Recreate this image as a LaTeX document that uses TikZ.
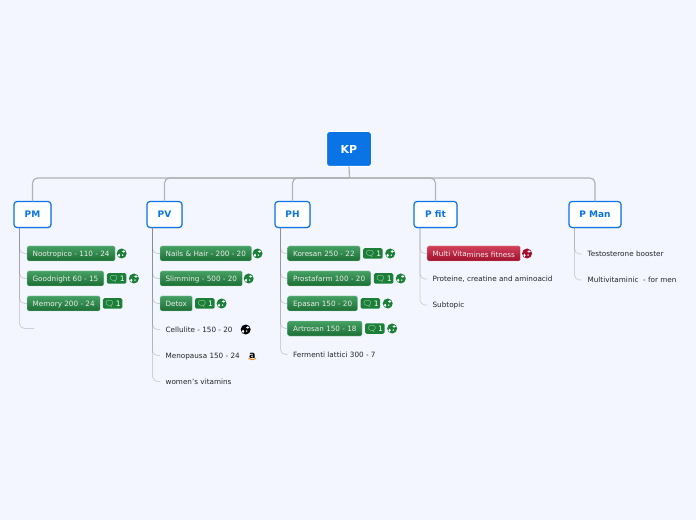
\documentclass[tikz,border=0pt]{standalone}
\usepackage{fontspec}
\setmainfont{DejaVu Sans}
\newfontfamily\emojifont{Noto Emoji}
\usetikzlibrary{positioning,calc,shadows}
\definecolor{pagebg}{HTML}{F3F6FF}
\definecolor{kpblue}{HTML}{0A73E6}
\definecolor{linegrey}{HTML}{B0B2B6}
\definecolor{pilltop}{HTML}{45A063}
\definecolor{pillbot}{HTML}{1B6E34}
\definecolor{redtop}{HTML}{D2405A}
\definecolor{redbot}{HTML}{A0102C}
\definecolor{badgegreen}{HTML}{1B7F38}
\tikzstyle{rootbox}=[rectangle, rounded corners=3pt, draw=white, line width=1pt, fill=kpblue, text=white, font=\bfseries\fontsize{11}{13}\selectfont, minimum width=45pt, minimum height=35pt, inner sep=0pt, outer sep=0pt]
\tikzstyle{mainbox}=[rectangle, rounded corners=3pt, draw=kpblue, line width=1.2pt, fill=white, text=kpblue, font=\bfseries\fontsize{9}{10}\selectfont, minimum height=26pt, inner sep=0pt, outer sep=0pt, drop shadow={shadow xshift=0.5pt, shadow yshift=-0.8pt, opacity=.35}]
\tikzstyle{pill}=[rectangle, rounded corners=1.5pt, draw=white!50!pilltop, line width=.4pt, top color=pilltop, bottom color=pillbot, text=white!92!black, font=\fontsize{7.25}{8}\selectfont, minimum height=15pt, text height=6.6pt, text depth=.6pt, inner xsep=5.6pt, inner ysep=0pt, outer sep=0pt]
\tikzstyle{redpill}=[pill, draw=white!50!redtop, top color=redtop, bottom color=redbot]
\tikzstyle{leaf}=[rectangle, text=black!85, font=\fontsize{7.25}{8}\selectfont, minimum height=15pt, text height=6.6pt, text depth=.6pt, inner xsep=5.6pt, inner ysep=0pt, outer sep=0pt]
\tikzstyle{notebadge}=[rectangle, rounded corners=1.5pt, fill=badgegreen, text=white, font=\fontsize{7.5}{8}\selectfont, minimum height=10.5pt, minimum width=19.5pt, inner sep=0pt, outer sep=0pt]
\tikzstyle{globe}=[circle, fill=#1, minimum size=10pt, inner sep=0pt, outer sep=0pt, path picture={
    \fill[white] ($(path picture bounding box.center)+(2,2)$) ellipse (1.7pt and 1.2pt);
    \fill[white] ($(path picture bounding box.center)+(-2.6,-1.8)$) ellipse (1.2pt and 1.7pt);
    \fill[white] ($(path picture bounding box.center)+(1,-1.6)$) circle (.8pt);
    }]
\tikzstyle{mainline}=[-, line width=1.2pt, draw=linegrey, rounded corners=5pt]
\tikzstyle{branch}=[-, line width=.8pt, draw=black!50, draw opacity=.32, rounded corners=5pt]
\newcommand\bubble{{\emojifont\fontsize{8}{8}\selectfont 🗨}\,1}

\begin{document}
\begin{tikzpicture}[x=1pt,y=1pt,node distance=10pt]

    \fill[pagebg] (0,0) rectangle (696,520);
    \useasboundingbox (0,0) rectangle (696,520);

    \node (kp) [rootbox] at (349,371) {KP};
    \coordinate (kpbus) at (349.5,342);

    \node (pm) [mainbox, minimum width=37pt] at (32.5,305.5) {PM};
    \node (pv) [mainbox, minimum width=35pt, right=96pt of pm] {PV};
    \node (ph) [mainbox, minimum width=35pt, right=93pt of pv] {PH};
    \node (pfit) [mainbox, minimum width=43pt, right=104pt of ph] {P fit};
    \node (pman) [mainbox, minimum width=52pt, right=112pt of pfit] {P Man};

% PM
    \node (noot) [pill, below right=18.5pt and 13pt of pm.south west] {Nootropico - 110 - 24};
    \node (nootg) [globe=badgegreen, right=1.5pt of noot] {};
    \node (goodnight) [pill, below=10pt of noot.south west, anchor=north west] {Goodnight 60 - 15};
    \node (goodnightb) [notebadge, right=3pt of goodnight] {\bubble};
    \node (goodnightg) [globe=badgegreen, right=2.5pt of goodnightb] {};
    \node (memory) [pill, below=10pt of goodnight.south west, anchor=north west] {Memory 200 - 24};
    \node (memoryb) [notebadge, right=2.5pt of memory] {\bubble};
    \coordinate (pmend) at ($(memory.south west)+(7,-17.5)$);

% PV
    \node (nails) [pill, below right=18.5pt and 13pt of pv.south west] {Nails \& Hair - 200 - 20};
    \node (nailsg) [globe=badgegreen, right=1pt of nails] {};
    \node (slim) [pill, below=10pt of nails.south west, anchor=north west] {Slimming - 500 - 20};
    \node (slimg) [globe=badgegreen, right=1pt of slim] {};
    \node (detox) [pill, below=10pt of slim.south west, anchor=north west] {Detox};
    \node (detoxb) [notebadge, right=2.5pt of detox] {\bubble};
    \node (detoxg) [globe=badgegreen, right=2pt of detoxb] {};
    \node (cell) [leaf, below=11pt of detox.south west, anchor=north west] {Cellulite - 150 - 20};
    \node (cellg) [globe=black, right=2.5pt of cell] {};
    \node (meno) [leaf, below=11pt of cell.south west, anchor=north west] {Menopausa 150 - 24};
    \node (menoa) [font=\bfseries\fontsize{9.5}{9.5}\selectfont, inner sep=0pt, right=3.5pt of meno] {a};
    \draw[orange, line width=.9pt] ($(menoa.south west)+(-.5,0)$) to[bend right=35] ($(menoa.south east)+(.5,0)$);
    \node (women) [leaf, below=11pt of meno.south west, anchor=north west] {women's vitamins};

% PH
    \node (koresan) [pill, below right=18.5pt and 12.5pt of ph.south west] {Koresan 250 - 22};
    \node (koresanb) [notebadge, right=3pt of koresan] {\bubble};
    \node (koresang) [globe=badgegreen, right=2.5pt of koresanb] {};
    \node (prosta) [pill, below=10pt of koresan.south west, anchor=north west] {Prostafarm 100 - 20};
    \node (prostab) [notebadge, right=3pt of prosta] {\bubble};
    \node (prostag) [globe=badgegreen, right=2.5pt of prostab] {};
    \node (epasan) [pill, below=10pt of prosta.south west, anchor=north west] {Epasan 150 - 20};
    \node (epasanb) [notebadge, right=3pt of epasan] {\bubble};
    \node (epasang) [globe=badgegreen, right=2.5pt of epasanb] {};
    \node (artro) [pill, below=10pt of epasan.south west, anchor=north west] {Artrosan 150 - 18};
    \node (artrob) [notebadge, right=3pt of artro] {\bubble};
    \node (artrog) [globe=badgegreen, right=2.5pt of artrob] {};
    \node (ferm) [leaf, below=11pt of artro.south west, anchor=north west] {Fermenti lattici 300 - 7};

% P fit
    \node (multi) [redpill, below right=18.5pt and 13pt of pfit.south west] {Multi Vita\raisebox{-.8pt}{mines fitness}};
    \node (multig) [globe=redbot, right=1.5pt of multi] {};
    \node (prot) [leaf, below=10.5pt of multi.south west, anchor=north west] {Proteine, creatine and aminoacid};
    \node (subt) [leaf, below=11pt of prot.south west, anchor=north west] {Subtopic};

% P Man
    \node (testo) [leaf, below right=19pt and 13pt of pman.south west] {Testosterone booster};
    \node (multiv) [leaf, below=11pt of testo.south west, anchor=north west] {Multivitaminic \ - for men};

    \coordinate (pms) at ($(pm.south west)+(5.5,0)$);
    \coordinate (pvs) at ($(pv.south west)+(5.5,0)$);
    \coordinate (phs) at ($(ph.south west)+(5.5,0)$);
    \coordinate (pfits) at ($(pfit.south west)+(6,0)$);
    \coordinate (pmans) at ($(pman.south west)+(5.5,0)$);

   \draw[mainline] (kp.south) -- (kpbus);
   \draw[mainline] (kpbus) -| (pm.north);
   \draw[mainline] (kpbus) -| (pv.north);
   \draw[mainline] (kpbus) -| (ph.north);
   \draw[mainline] (kpbus) -| (pfit.north);
   \draw[mainline] (kpbus) -| (pman.north);

%leaf lines
   \draw[branch] (pms) |- (noot.west);
   \draw[branch] (pms) |- (goodnight.west);
   \draw[branch] (pms) |- (memory.west);
   \draw[branch] (pms) |- (pmend);

   \draw[branch] (pvs) |- (nails.west);
   \draw[branch] (pvs) |- (slim.west);
   \draw[branch] (pvs) |- (detox.west);
   \draw[branch] (pvs) |- (cell.west);
   \draw[branch] (pvs) |- (meno.west);
   \draw[branch] (pvs) |- (women.west);

   \draw[branch] (phs) |- (koresan.west);
   \draw[branch] (phs) |- (prosta.west);
   \draw[branch] (phs) |- (epasan.west);
   \draw[branch] (phs) |- (artro.west);
   \draw[branch] (phs) |- (ferm.west);

   \draw[branch] (pfits) |- (multi.west);
   \draw[branch] (pfits) |- (prot.west);
   \draw[branch] (pfits) |- (subt.west);

   \draw[branch] (pmans) |- (testo.west);
   \draw[branch] (pmans) |- (multiv.west);

\end{tikzpicture}
\end{document}
